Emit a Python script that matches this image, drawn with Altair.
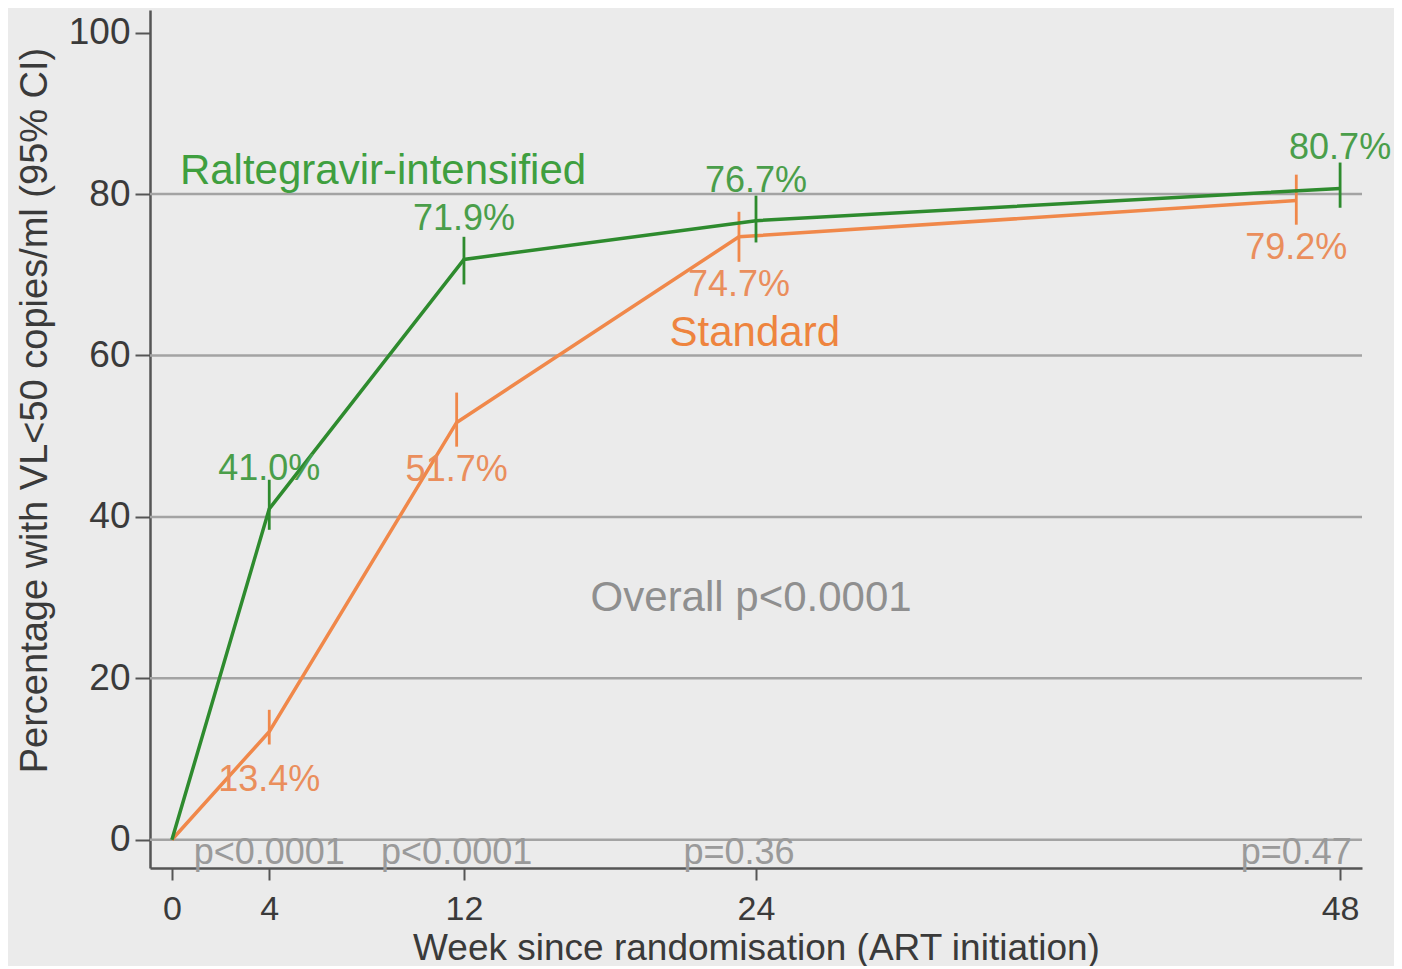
import altair as alt
import pandas as pd

# ---- data ----
weeks_ral = [0, 4, 12, 24, 48]
pct_ral = [0.0, 41.0, 71.9, 76.7, 80.7]
lo_ral = [None, 38.4, 68.8, 74.0, 78.3]
hi_ral = [None, 44.6, 74.7, 79.8, 83.9]
lab_ral = ["", "41.0%", "71.9%", "76.7%", "80.7%"]

weeks_std = [0, 4, 11.7, 23.3, 46.2]  # plotted slightly dodged in the original
pct_std = [0.0, 13.4, 51.7, 74.7, 79.2]
lo_std = [None, 11.8, 48.7, 71.6, 76.2]
hi_std = [None, 16.1, 55.4, 77.8, 82.4]
lab_std = ["", "13.4%", "51.7%", "74.7%", "79.2%"]

p_weeks = [4, 11.7, 23.3, 46.2]
p_labels = ["p<0.0001", "p<0.0001", "p=0.36", "p=0.47"]

grid_y = [0, 20, 40, 60, 80]
x_ticks = [0, 4, 12, 24, 48]
y_ticks = [0, 20, 40, 60, 80, 100]

notes_x = [0.33, 23.95, 23.8]
notes_y = [82.8, 62.8, 30.0]
notes_text = ["Raltegravir-intensified", "Standard", "Overall p<0.0001"]
notes_kind = ["ral", "std", "all"]

GREEN = "#2e8b2e"
GREEN_T = "#4a9e4a"
ORANGE = "#f0884a"
ORANGE_T = "#ea8e5c"
GREY_T = "#8f8f8f"
BG = "#ebebeb"
FONT = "Liberation Sans"

ral = pd.DataFrame({"week": weeks_ral, "pct": pct_ral, "lo": lo_ral, "hi": hi_ral, "lab": lab_ral})
std = pd.DataFrame({"week": weeks_std, "pct": pct_std, "lo": lo_std, "hi": hi_std, "lab": lab_std})
pv = pd.DataFrame({"week": p_weeks, "lab": p_labels, "y": [-1.6] * len(p_weeks)})
grid = pd.DataFrame({"y": grid_y})
notes = pd.DataFrame({"x": notes_x, "y": notes_y, "t": notes_text, "k": notes_kind})

xscale = alt.Scale(domain=[-0.9, 48.9], nice=False, zero=False)
yscale = alt.Scale(domain=[-3.5, 102.8], nice=False, zero=False)

xaxis = alt.Axis(values=x_ticks, title="Week since randomisation (ART initiation)",
                 grid=False, domainColor="#555555", domainWidth=2.5, tickColor="#555555",
                 tickWidth=2, tickSize=12, labelFontSize=34, labelColor="#3a3a3a",
                 labelPadding=12, titleFontSize=37, titleFontWeight="normal",
                 titleColor="#3a3a3a", titlePadding=4, labelFont=FONT, titleFont=FONT)
yaxis = alt.Axis(values=y_ticks, title="Percentage with VL<50 copies/ml (95% CI)",
                 grid=False, domainColor="#555555", domainWidth=2.5, tickColor="#555555",
                 tickWidth=2, tickSize=15, labelFontSize=37, labelColor="#3a3a3a",
                 labelPadding=5, titleFontSize=38, titleFontWeight="normal",
                 titleColor="#3a3a3a", labelFont=FONT, titleFont=FONT,
                 titleX=-115, titleY=400, titleBaseline="middle", titleAlign="center",
                 titleAngle=270)

gridl = alt.Chart(grid).mark_rule(color="#a3a3a3", strokeWidth=2.5).encode(
    y=alt.Y("y:Q", scale=yscale, axis=yaxis))

# invisible layer carrying the x axis
xcarrier = alt.Chart(ral).mark_point(opacity=0).encode(
    x=alt.X("week:Q", scale=xscale, axis=xaxis),
    y=alt.Y("pct:Q", scale=yscale))

def series(df, color, tcolor, dy):
    line = alt.Chart(df).mark_line(color=color, strokeWidth=3.5).encode(
        x=alt.X("week:Q", scale=xscale), y=alt.Y("pct:Q", scale=yscale))
    err = alt.Chart(df).transform_filter("datum.lo != null").mark_rule(
        color=color, strokeWidth=2.8).encode(
        x=alt.X("week:Q", scale=xscale), y=alt.Y("lo:Q", scale=yscale), y2="hi:Q")
    txt = alt.Chart(df).transform_filter("datum.lab != ''").mark_text(
        color=tcolor, fontSize=36, font=FONT, dy=dy, baseline="middle", align="center").encode(
        x=alt.X("week:Q", scale=xscale), y=alt.Y("pct:Q", scale=yscale), text="lab:N")
    return [line, err, txt]

std_layers = series(std, ORANGE, ORANGE_T, 48)
ral_layers = series(ral, GREEN, GREEN_T, -40)

note_ral = alt.Chart(notes).transform_filter("datum.k == 'ral'").mark_text(
    color="#3f9f3f", fontSize=42, font=FONT, align="left", baseline="middle").encode(
    x=alt.X("x:Q", scale=xscale), y=alt.Y("y:Q", scale=yscale), text="t:N")
note_std = alt.Chart(notes).transform_filter("datum.k == 'std'").mark_text(
    color="#ee843e", fontSize=42, font=FONT, align="center", baseline="middle").encode(
    x=alt.X("x:Q", scale=xscale), y=alt.Y("y:Q", scale=yscale), text="t:N")
note_all = alt.Chart(notes).transform_filter("datum.k == 'all'").mark_text(
    color=GREY_T, fontSize=42, font=FONT, align="center", baseline="middle").encode(
    x=alt.X("x:Q", scale=xscale), y=alt.Y("y:Q", scale=yscale), text="t:N")

ptext = alt.Chart(pv).mark_text(color="#9a9a9a", fontSize=36, font=FONT,
                                align="center", baseline="middle").encode(
    x=alt.X("week:Q", scale=xscale), y=alt.Y("y:Q", scale=yscale), text="lab:N")

chart = alt.layer(gridl, xcarrier, *std_layers, *ral_layers, note_ral, note_std, note_all, ptext).properties(
    width=1212, height=858,
    autosize=alt.AutoSizeParams(type="none"),
    padding={"left": 142, "top": 2, "right": 32, "bottom": 98},
    background=BG,
).configure_view(stroke=None, fill=BG)

chart.save("out.html", embed_options={"renderer": "svg", "actions": False})
